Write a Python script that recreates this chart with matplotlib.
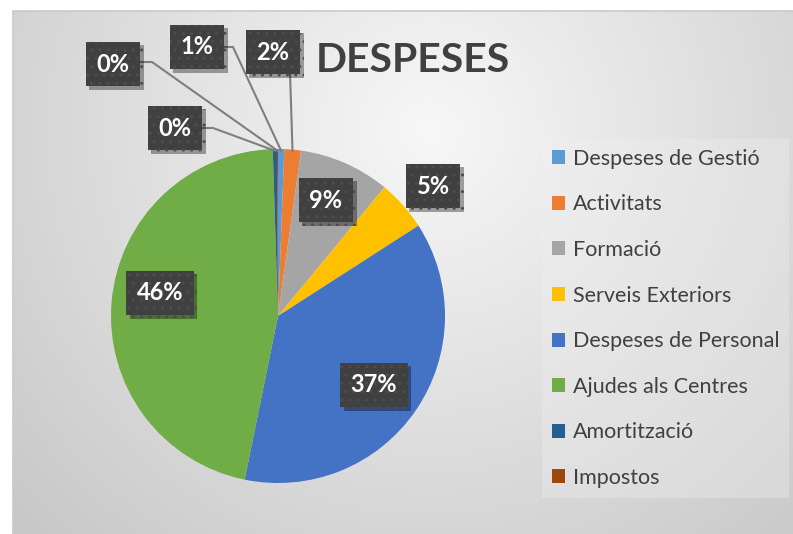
import numpy as np
import matplotlib.pyplot as plt
import matplotlib.patheffects as pe
from matplotlib.lines import Line2D

plt.rcParams['font.family'] = ['Lato', 'DejaVu Sans']

# Dades
categories = ["Despeses de Gestió", "Activitats", "Formació", "Serveis Exteriors",
              "Despeses de Personal", "Ajudes als Centres", "Amortització", "Impostos"]
valors = [0.6, 1.6, 8.8, 4.9, 37.3, 46.3, 0.4, 0.1]
colors = ["#5B9BD5", "#ED7D31", "#A5A5A5", "#FFC000",
          "#4472C4", "#70AD47", "#255E91", "#9E480E"]

W, H = 793, 534


def fig_xy(px, py):
    # pixel (des de dalt a l'esquerra) -> fracció de figura
    return px / W, 1 - py / H


fig = plt.figure(figsize=(W / 100, H / 100), dpi=100)
fig.patch.set_facecolor("#cdcdcd")

# fons amb degradat radial
bg = fig.add_axes([0, 0, 1, 1], zorder=-5)
yy, xx = np.mgrid[0:H + 2, 0:W + 2]
dist = np.hypot(xx - 430, (yy - 130) * 1.0)
grad = np.clip(0.97 - 0.000328 * dist, 0, 1)
img = np.dstack([grad] * 3)
mask = (xx < 13) | (yy < 11)
img[mask] = 1.0
bg.imshow(img, extent=(0, W + 2, H + 2, 0), interpolation="nearest", aspect="auto")
bg.plot([13, 13, W + 2], [H + 2, 11, 11], color="#c9c9c9", lw=1.2)
bg.set_xlim(0, W)
bg.set_ylim(H, 0)
bg.margins(0)
bg.axis("off")

# pastís
cx, cy, r = 278, 316, 167
ax = fig.add_axes([(cx - r) / W, (H - cy - r) / H, 2 * r / W, 2 * r / H])
wedges, _ = ax.pie(valors, colors=colors, startangle=90, counterclock=False,
                   radius=1, wedgeprops=dict(linewidth=0))
ax.set_xlim(-1, 1)
ax.set_ylim(-1, 1)
ax.set_aspect("equal")
ax.axis("off")

# etiquetes de percentatge
total = sum(valors)
pos_etiquetes = [(197, 47), (273, 52), (326, 200), (433, 186),
                 (374, 385), (160, 293), (175, 128), (113, 64)]
# inici i colze de les línies guia (None = sense línia)
guies = [[(222, 47), (233, 47)], [(290, 72)], None, None,
         None, None, [(200, 128), (213, 128)], [(137, 62), (152, 62)]]

to_fig = ax.transData + fig.transFigure.inverted()
for w, v, (px, py), g in zip(wedges, valors, pos_etiquetes, guies):
    if g is not None:
        ang = np.deg2rad((w.theta1 + w.theta2) / 2)
        ex, ey = to_fig.transform((np.cos(ang) * 0.99, np.sin(ang) * 0.99))
        pts = [fig_xy(*p) for p in g] + [(ex, ey)]
        fig.add_artist(Line2D([p[0] for p in pts], [p[1] for p in pts],
                              color="#7f7f7f", lw=1.5, zorder=3))
    tx, ty = fig_xy(px, py)
    t = fig.text(tx, ty, f"{v / total * 100:.0f}%", ha="center", va="center",
                 color="white", fontsize=17, fontweight="bold", zorder=5,
                 bbox=dict(boxstyle="square,pad=0.45", facecolor="#404040",
                           edgecolor="#4d4d4d", linewidth=0, hatch=".."))
    t.get_bbox_patch().set_path_effects(
        [pe.withSimplePatchShadow(offset=(2.5, -2.5), shadow_rgbFace="black", alpha=0.35),
         pe.Normal()])

# títol
tx, ty = fig_xy(413, 60)
fig.text(tx, ty, "DESPESES", ha="center", va="center", fontsize=29.5,
         fontweight="bold", color="#404040")

# llegenda
lx, ly = fig_xy(542, 139)
leg = fig.legend(wedges, categories, loc="upper left", bbox_to_anchor=(lx, ly),
                 fontsize=15.5, labelcolor="#404040", frameon=True, fancybox=False,
                 handlelength=0.62, handleheight=0.62, handletextpad=0.38,
                 labelspacing=1.19, borderpad=0.45, borderaxespad=0)
leg.get_frame().set_facecolor("#f0f0f0")
leg.get_frame().set_alpha(0.35)
leg.get_frame().set_linewidth(0)

fig.savefig("out.png", dpi=100)
